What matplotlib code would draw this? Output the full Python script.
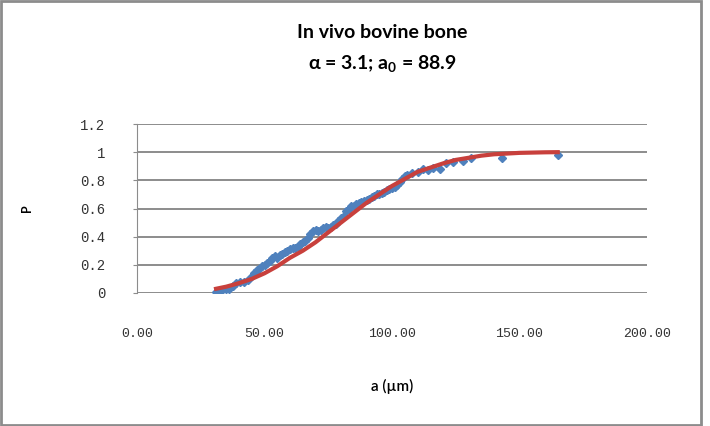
import matplotlib
matplotlib.use('Agg')
import matplotlib.pyplot as plt
from matplotlib.patches import Rectangle

plt.rcParams['mathtext.fontset'] = 'custom'
plt.rcParams['mathtext.rm'] = 'Lato:bold'
plt.rcParams['mathtext.it'] = 'Lato:bold'

# measured points (a in um, cumulative P)
a_pts = [31, 32, 33.5, 35, 36, 37.5, 39, 40.5, 42, 43.5, 45, 46, 47, 48, 49, 50,
         51, 52, 53, 54, 55, 56, 57, 58, 59, 60, 61, 62, 63, 64, 65, 66, 67, 68,
         69, 70, 71, 72, 73, 74, 75, 76, 77, 78, 79, 80, 81, 82, 83, 84, 85, 86,
         87, 88, 89, 90, 91, 92, 93, 94, 95, 96, 97, 98, 99, 100, 101, 102, 103,
         104, 105, 106, 108, 110, 112, 114, 116, 119, 121, 124, 128, 131, 143, 165]
p_pts = [0.005, 0.01, 0.02, 0.03, 0.025, 0.05, 0.07, 0.075, 0.08, 0.09, 0.12, 0.14,
         0.16, 0.17, 0.19, 0.20, 0.21, 0.23, 0.25, 0.26, 0.25, 0.27, 0.28, 0.29,
         0.30, 0.31, 0.32, 0.32, 0.33, 0.35, 0.36, 0.37, 0.39, 0.42, 0.44, 0.45,
         0.44, 0.45, 0.46, 0.47, 0.46, 0.47, 0.48, 0.49, 0.51, 0.53, 0.55, 0.58,
         0.60, 0.62, 0.62, 0.63, 0.64, 0.645, 0.65, 0.66, 0.67, 0.68, 0.69, 0.70,
         0.70, 0.71, 0.72, 0.73, 0.74, 0.745, 0.75, 0.77, 0.79, 0.81, 0.83, 0.84,
         0.85, 0.86, 0.88, 0.87, 0.89, 0.88, 0.92, 0.93, 0.94, 0.96, 0.96, 0.98]

# fitted curve
a_fit = [31, 35, 40, 45, 50, 55, 60, 65, 70, 75, 80, 85, 90, 95, 100, 105, 110,
         115, 120, 125, 130, 135, 140, 145, 150, 155, 160, 165]
p_fit = [0.03, 0.045, 0.07, 0.10, 0.14, 0.19, 0.25, 0.30, 0.36, 0.43, 0.50, 0.57,
         0.64, 0.70, 0.76, 0.81, 0.86, 0.89, 0.92, 0.945, 0.96, 0.975, 0.985,
         0.99, 0.995, 0.997, 0.999, 1.0]

x_ticks = [0, 50, 100, 150, 200]
y_ticks = [0, 0.2, 0.4, 0.6, 0.8, 1, 1.2]
y_labels = ['0', '0.2', '0.4', '0.6', '0.8', '1', '1.2']

fig = plt.figure(figsize=(7.1, 4.26), dpi=100)
ax = fig.add_axes([137 / 710, 1 - 293 / 426, 510 / 710, 169 / 426])

ax.plot(a_pts, p_pts, linestyle='none', marker='D', markersize=4.5,
        color='#4F81BD', zorder=3)
ax.plot(a_fit, p_fit, color='#C8403C', linewidth=3, zorder=4)

ax.set_xlim(0, 200)
ax.set_ylim(0, 1.2)
ax.set_xticks(x_ticks)
ax.set_xticklabels([f'{v:.2f}' for v in x_ticks])
ax.set_yticks(y_ticks)
ax.set_yticklabels(y_labels)

ax.grid(axis='y', color='#8c8c8c', linewidth=1.4)
ax.set_axisbelow(True)
for s in ['top', 'right', 'bottom']:
    ax.spines[s].set_visible(False)
ax.spines['left'].set_color('#8c8c8c')
ax.tick_params(axis='x', length=0, pad=25, labelsize=9.5, labelcolor='#333333')
ax.tick_params(axis='y', length=3, color='#8c8c8c', pad=20, labelsize=10,
               labelcolor='#333333')
for lab in ax.get_xticklabels() + ax.get_yticklabels():
    lab.set_family('Liberation Mono')

ax.set_xlabel('a (\u00b5m)', fontsize=11, family='Lato', fontweight='semibold',
              labelpad=28)
ax.set_ylabel('P', fontsize=9, family='Lato', fontweight='bold', labelpad=34)

fig.text(0.538, 1 - 32 / 426, 'In vivo bovine bone', ha='center', va='center',
         fontsize=14, family='Lato', fontweight='bold')
fig.text(0.538, 1 - 63 / 426, '\u03b1 = 3.1; a$_{0}$ = 88.9', ha='center',
         va='center', fontsize=14, family='Lato', fontweight='bold')

fig.patches.append(Rectangle((0.002, 0.002), 0.985, 0.995, transform=fig.transFigure,
                             fill=False, edgecolor='#8c8c8c', linewidth=2))

fig.savefig('out.png', dpi=100)
